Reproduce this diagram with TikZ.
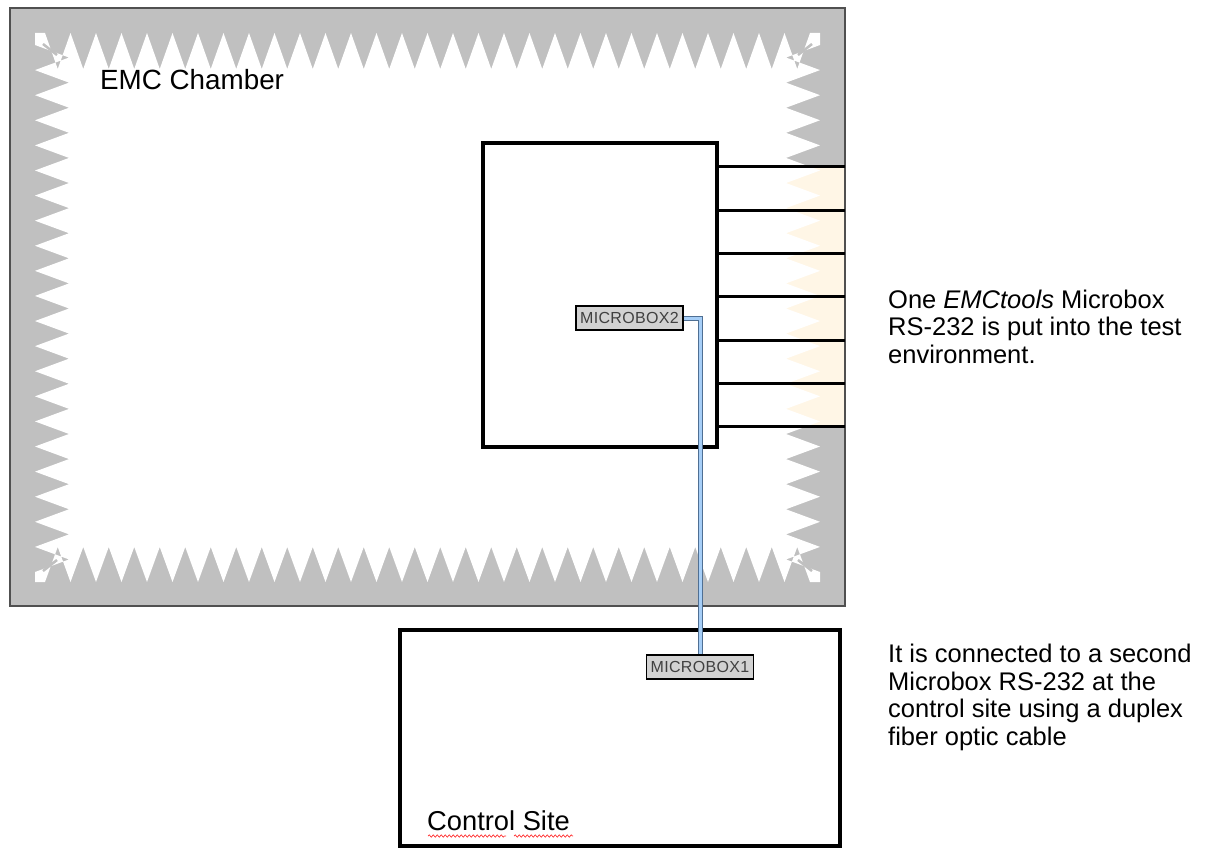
\documentclass[tikz,border=0pt]{standalone}
\usepackage{fontspec}
\setmainfont{Liberation Sans}
\usetikzlibrary{decorations.pathmorphing}
\definecolor{wallgray}{HTML}{C0C0C0}
\definecolor{walledge}{HTML}{505050}
\definecolor{cream}{HTML}{FFF6E6}
\definecolor{fiberblue}{HTML}{A6CEF7}
\definecolor{fiberedge}{HTML}{4F6F93}
\definecolor{mbfill}{HTML}{D2D2D2}
\tikzset{
  heavybox/.style={draw=black, line width=4pt, fill=white, inner sep=0pt},
  mbox/.style={draw=black, line width=1.5pt, fill=mbfill, inner sep=0pt,
    minimum width=107pt, minimum height=24pt, text=black!75,
    font=\fontsize{16}{18}\selectfont\addfontfeatures{LetterSpace=2}},
  feed/.style={draw=black, line width=3pt},
  fiber/.style={draw=fiberedge, line width=1pt, double=fiberblue, double distance=3pt},
  note/.style={anchor=base west, align=left, inner sep=0pt,
    font=\fontsize{25.5}{27.5}\selectfont},
  label/.style={anchor=base west, inner sep=0pt, font=\fontsize{27.8}{30}\selectfont}, 
  spell/.style={draw=red!80, line width=0.7pt, decorate,
    decoration={snake, amplitude=1.2pt, segment length=4pt}}
}
\begin{document}
\begin{tikzpicture}[x=1pt,y=-1pt]
\useasboundingbox (0,0) rectangle (1211,848);
% chamber wall
\fill[wallgray] (10,8) rectangle (845,606);
\fill[cream] (786,167) rectangle (845,427);
% inner white zigzag area
\fill[white] (35,33)
  \foreach \i in {0,...,29} { -- ({45+25.5*\i},33) -- ({57.75+25.5*\i},69) }
  -- (810,33) -- (820,33)
  \foreach \j in {0,...,20} { -- (820,{45+25.095*\j}) -- (786,{57.55+25.095*\j}) }
  -- (820,572) -- (820,582)
  \foreach \i in {0,...,29} { -- ({810-25.5*\i},582) -- ({797.25-25.5*\i},547) }
  -- (45,582) -- (35,582)
  \foreach \j in {0,...,20} { -- (35,{572-25.095*\j}) -- (69,{559.45-25.095*\j}) }
  -- (35,45) -- cycle;
% corner notches
\foreach \p/\q in {{(43,44)}/{(57,55)}, {(812,44)}/{(798,55)}, {(43,571)}/{(57,560)}, {(812,571)}/{(798,560)}}
  \draw[wallgray, line width=2.5pt] \p -- \q;
\draw[walledge, line width=1.5pt] (10,8) rectangle (845,606);
\node[label] (emc) at (100,90) {EMC Chamber};

% equipment under test
\node[heavybox, minimum width=234pt, minimum height=304pt] (eut) at (600,295) {};
\foreach \k in {0,...,6} {
  \coordinate (w\k) at (845,{167+43.33*\k});
  \draw[feed] (eut.east |- w\k) -- (w\k);
}

% control site
\node[heavybox, minimum width=440pt, minimum height=216pt] (ctrl) at (620,738) {};
\node[label] (ctrltext) at (427,830) {\fontsize{27.3}{30}\selectfont Control Site};
\draw[spell] (428,836) -- (506,836);
\draw[spell] (514,836) -- (573,836);

% microboxes
\node[mbox] (mb2) at (629.5,318) {MICROBOX2};
\node[mbox] (mb1) at (700,667) {MICROBOX1};
\draw[fiber] (mb2.east) -| (mb1.north);

% notes
\node[note] (n1) at (888,363) {One \textit{EMCtools} Microbox\\RS-232 is put into the test\\environment.};
\node[note] (n2) at (888,745) {It is connected to a second\\Microbox RS-232 at the\\control site using a duplex\\fiber optic cable};
\end{tikzpicture}
\end{document}
